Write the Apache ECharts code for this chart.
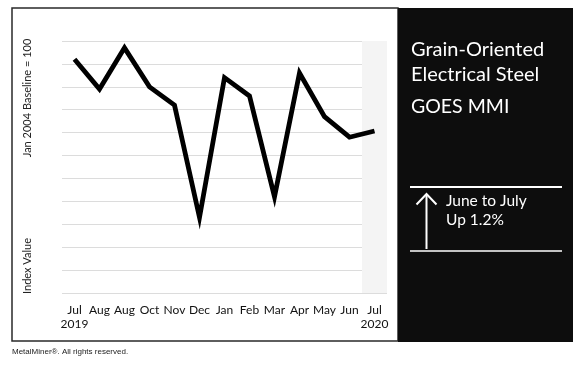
<!DOCTYPE html>
<html>
<head>
<meta charset="utf-8">
<script src="https://cdn.jsdelivr.net/npm/echarts@6/dist/echarts.min.js"></script>
<style>
html,body{margin:0;padding:0;background:#fff;}
#chart{width:580px;height:368px;}
</style>
</head>
<body>
<div id="chart"></div>
<script>
// Data
var categories = ['Jul\n2019','Aug','Aug','Oct','Nov','Dec','Jan','Feb','Mar','Apr','May','Jun','Jul\n2020'];
var mmiValues = [262, 249, 267, 250, 242, 193, 254, 246, 202, 256, 237, 228, 230.7];
var yMin = 160, yMax = 270, yStep = 10;
var titleLines = ['Grain-Oriented', 'Electrical Steel'];
var subtitle = 'GOES MMI';
var changeLines = ['June to July', 'Up 1.2%'];
var yNameTop = 'Jan 2004 Baseline = 100';
var yNameBottom = 'Index Value';
var credit = 'MetalMiner\u00ae. All rights reserved.';

var shade = categories.map(function(c, i){ return i === categories.length - 1 ? '#f4f4f4' : 'rgba(0,0,0,0)'; });

var chart = echarts.init(document.getElementById('chart'), null, {renderer:'canvas'});
var font = 'Lato';
chart.setOption({
  backgroundColor: '#fff',
  animation: false,
  grid: {left: 62, right: 193, top: 41, bottom: 75},
  xAxis: {
    type: 'category',
    data: categories,
    boundaryGap: true,
    axisLine: {show: false},
    axisTick: {show: false},
    splitArea: {show: true, interval: 0, areaStyle: {color: shade}},
    axisLabel: {interval: 0, margin: 10, color: '#111', fontFamily: font, fontSize: 12, lineHeight: 14}
  },
  yAxis: {
    type: 'value',
    min: yMin, max: yMax, interval: yStep,
    axisLine: {show: false},
    axisTick: {show: false},
    axisLabel: {show: false},
    splitLine: {show: true, lineStyle: {color: '#dcdcdc', width: 1}}
  },
  series: [{
    type: 'line',
    data: mmiValues,
    symbol: 'none',
    lineStyle: {color: '#000', width: 4.8, join: 'miter'},
    z: 5
  }],
  graphic: [
    {type:'rect', shape:{x:12, y:8, width:386, height:333}, style:{fill:'none', stroke:'#2a2a2a', lineWidth:1.5}, z:1},
    {type:'rect', shape:{x:398, y:8, width:175, height:334}, style:{fill:'#0d0d0d'}, z:2},
    {type:'text', x:27, y:98, rotation:Math.PI/2, style:{text:yNameTop, fill:'#222', font:'11px ' + font, textAlign:'center', textVerticalAlign:'middle'}},
    {type:'text', x:27, y:266, rotation:Math.PI/2, style:{text:yNameBottom, fill:'#222', font:'11px ' + font, textAlign:'center', textVerticalAlign:'middle'}},
    {type:'text', x:411, y:50, style:{text:titleLines[0], fill:'#fff', font:'20px ' + font, textAlign:'left', textVerticalAlign:'middle'}, z:3},
    {type:'text', x:411, y:75, style:{text:titleLines[1], fill:'#fff', font:'20px ' + font, textAlign:'left', textVerticalAlign:'middle'}, z:3},
    {type:'text', x:411, y:107, style:{text:subtitle, fill:'#fff', font:'19.5px ' + font, textAlign:'left', textVerticalAlign:'middle'}, z:3},
    {type:'line', shape:{x1:410, y1:187, x2:562, y2:187}, style:{stroke:'#fff', lineWidth:2}, z:3},
    {type:'line', shape:{x1:410, y1:251, x2:562, y2:251}, style:{stroke:'#fff', lineWidth:1.5}, z:3},
    {type:'line', shape:{x1:426.5, y1:194, x2:426.5, y2:249}, style:{stroke:'#fff', lineWidth:2}, z:3},
    {type:'polyline', shape:{points:[[416.5,204.5],[426.5,194],[436.5,204.5]]}, style:{stroke:'#fff', lineWidth:2, fill:'none'}, z:3},
    {type:'text', x:446, y:201, style:{text:changeLines[0], fill:'#fff', font:'15.5px ' + font, textAlign:'left', textVerticalAlign:'middle'}, z:3},
    {type:'text', x:446, y:220, style:{text:changeLines[1], fill:'#fff', font:'15.5px ' + font, textAlign:'left', textVerticalAlign:'middle'}, z:3},
    {type:'text', x:12, y:352, style:{text:credit, fill:'#222', font:'8px "Liberation Sans"', textAlign:'left', textVerticalAlign:'middle'}}
  ]
});
</script>
</body>
</html>
